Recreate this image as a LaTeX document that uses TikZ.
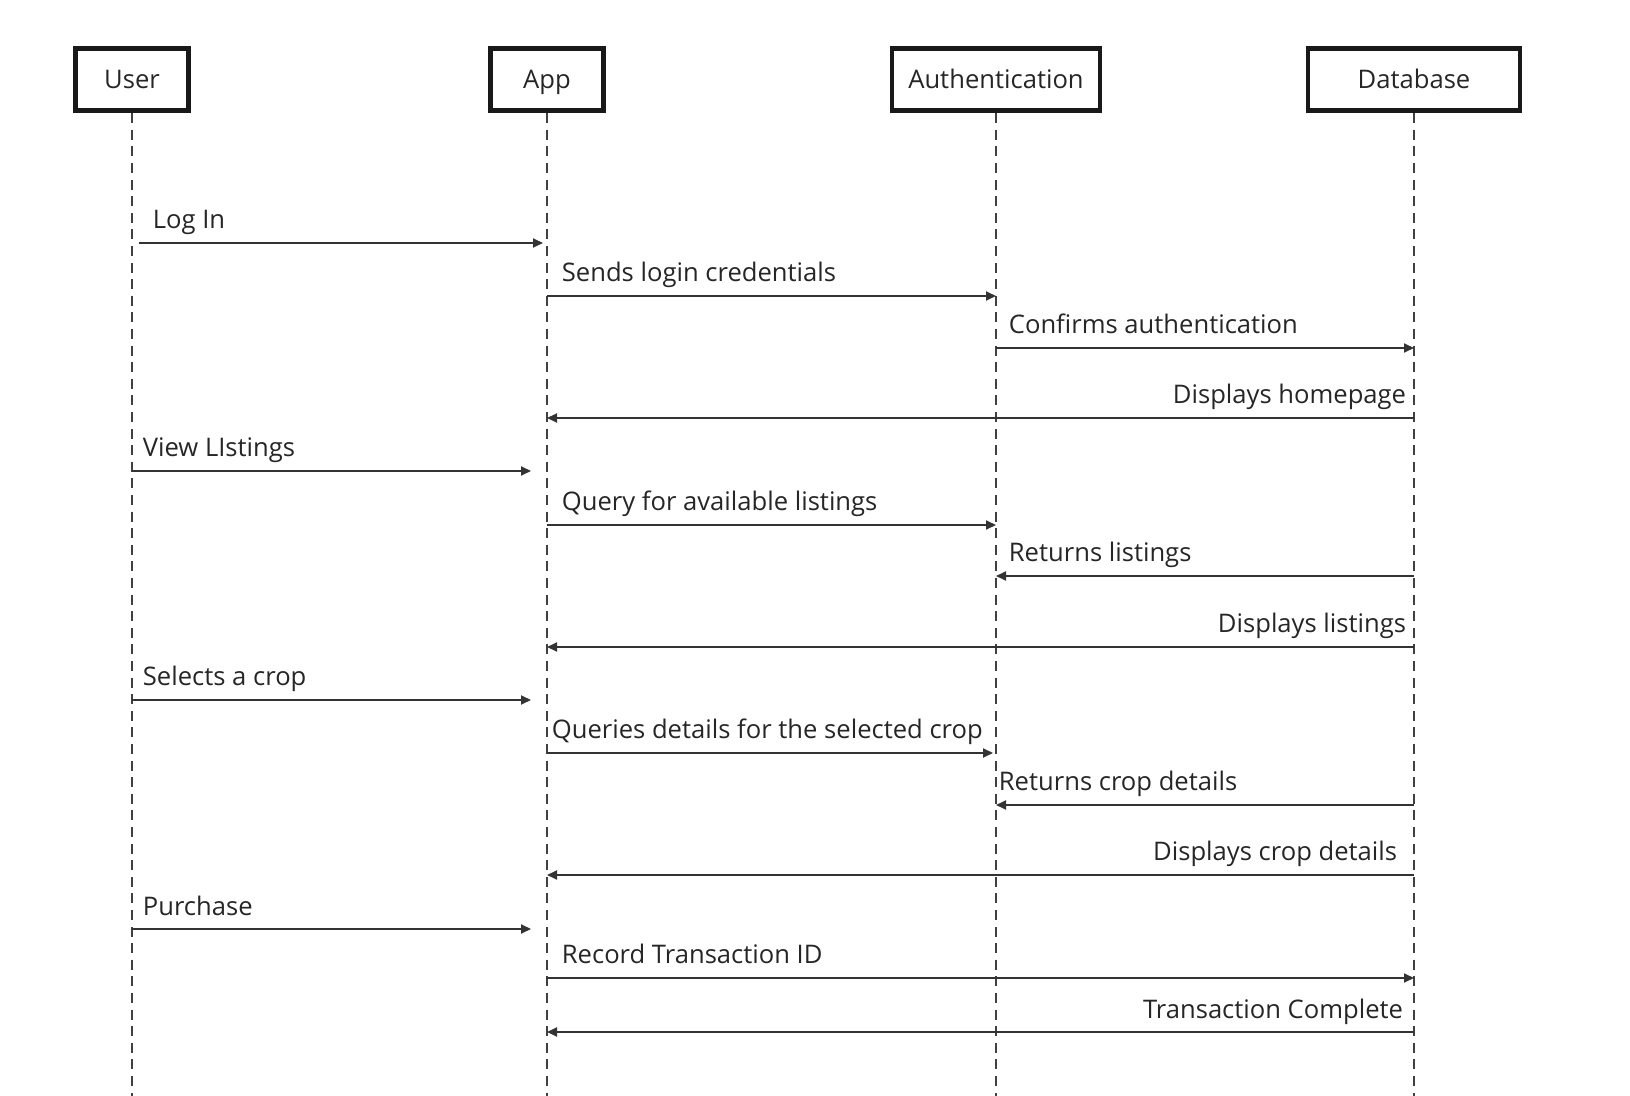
\documentclass[tikz,border=0pt]{standalone}
\usepackage{fontspec}
\setmainfont{Open Sans}
\usetikzlibrary{arrows.meta}

\begin{document}
\begin{tikzpicture}[x=0.5pt,y=-0.5pt,
    actor/.style={draw=black!90, line width=2.4pt, minimum height=31.25pt,
      inner sep=0pt, text height=9.1pt, text depth=0pt,
      font=\fontsize{12.8}{15}\selectfont, text=black!85},
    life/.style={dash pattern=on 5pt off 3.3pt, line width=0.9pt, black!75},
    msg/.style={->, line width=0.9pt, black!80},
    lbl/.style={font=\fontsize{12.8}{15}\selectfont, text=black!85, inner sep=0pt},
    >={Triangle[length=5pt,width=4.5pt]}]
  \useasboundingbox (0,0) rectangle (1630,1096);

  \node[actor, minimum width=56.75pt] (user) at (132,79.5) {User};
  \node[actor, minimum width=56.75pt] (app) at (547,79.5) {App};
  \node[actor, minimum width=104pt] (auth) at (996,79.5) {Authentication};
  \node[actor, minimum width=106pt] (db) at (1414,79.5) {Database};

  \foreach \a in {user,app,auth,db}
    \draw[life] (\a.south) -- (\a |- 0,1096);

  \draw[msg, shorten <=3.5pt, shorten >=2pt] (user |- 0,243) -- (app |- 0,243)
    node[lbl, pos=0, anchor=base west, xshift=10pt, yshift=7pt] {Log In};
  \draw[msg] (app |- 0,296) -- (auth |- 0,296)
    node[lbl, pos=0, anchor=base west, xshift=7pt, yshift=7pt] {Sends login credentials};
  \draw[msg] (auth |- 0,348) -- (db |- 0,348)
    node[lbl, pos=0, anchor=base west, xshift=6pt, yshift=7pt] {Confirms authentication};
  \draw[msg] (db |- 0,418) -- (app |- 0,418)
    node[lbl, pos=0, anchor=base east, xshift=-3.5pt, yshift=7pt] {Displays homepage};
  \draw[msg, shorten >=8pt] (user |- 0,471) -- (app |- 0,471)
    node[lbl, pos=0, anchor=base west, xshift=5pt, yshift=7pt] {View LIstings};
  \draw[msg] (app |- 0,525) -- (auth |- 0,525)
    node[lbl, pos=0, anchor=base west, xshift=7pt, yshift=7pt] {Query for available listings};
  \draw[msg] (db |- 0,576) -- (auth |- 0,576)
    node[lbl, pos=1, anchor=base west, xshift=6pt, yshift=7pt] {Returns listings};
  \draw[msg] (db |- 0,647) -- (app |- 0,647)
    node[lbl, pos=0, anchor=base east, xshift=-3.5pt, yshift=7pt] {Displays listings};
  \draw[msg, shorten >=8pt] (user |- 0,700) -- (app |- 0,700)
    node[lbl, pos=0, anchor=base west, xshift=5pt, yshift=7pt] {Selects a crop};
  \draw[msg, shorten >=1.5pt] (app |- 0,753) -- (auth |- 0,753)
    node[lbl, pos=0, anchor=base west, xshift=2pt, yshift=7pt] {Queries details for the selected crop};
  \draw[msg] (db |- 0,805) -- (auth |- 0,805)
    node[lbl, pos=1, anchor=base west, xshift=1pt, yshift=7pt] {Returns crop details};
  \draw[msg] (db |- 0,875) -- (app |- 0,875)
    node[lbl, pos=0, anchor=base east, xshift=-8pt, yshift=7pt] {Displays crop details};
  \draw[msg, shorten >=8pt] (user |- 0,929) -- (app |- 0,929)
    node[lbl, pos=0, anchor=base west, xshift=5pt, yshift=7pt] {Purchase};
  \draw[msg] (app |- 0,978) -- (db |- 0,978)
    node[lbl, pos=0, anchor=base west, xshift=7pt, yshift=7pt] {Record Transaction ID};
  \draw[msg] (db |- 0,1032) -- (app |- 0,1032)
    node[lbl, pos=0, anchor=base east, xshift=-5pt, yshift=7pt] {Transaction Complete};
\end{tikzpicture}
\end{document}
